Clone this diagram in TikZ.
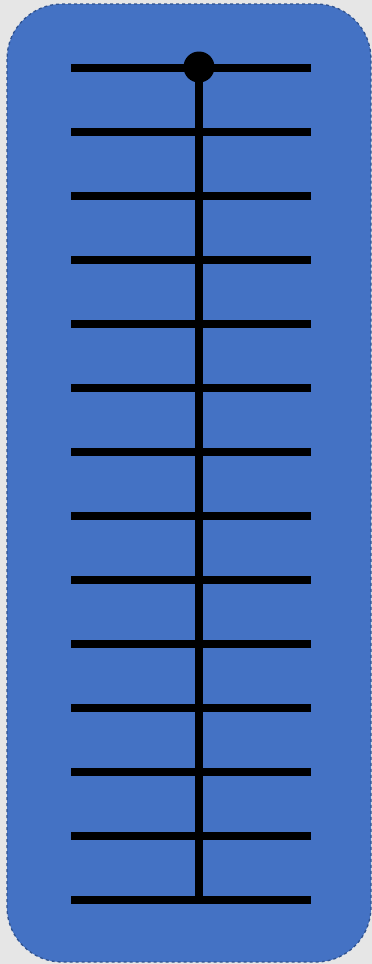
\documentclass[tikz,border=0pt]{standalone}
\begin{document}
\begin{tikzpicture}[x=1pt,y=-1pt,
  rung/.style={line width=8pt},
  stem/.style={line width=8pt}]
\definecolor{bgray}{HTML}{E6E6E6}
\definecolor{panelblue}{HTML}{4472C4}
\definecolor{panelborder}{HTML}{2F528F}
\fill[bgray] (0,0) rectangle (372,964);
\useasboundingbox (0,0) rectangle (372,964);
\draw[fill=panelblue, draw=panelborder, dashed, line width=1.3pt, rounded corners=55pt] (7,4) rectangle (371,962);
\foreach \i in {0,...,13}{
  \coordinate (l\i) at (71,68+64*\i);
  \coordinate (r\i) at (311,68+64*\i);
  \draw[rung] (l\i) -- (r\i);
}
\coordinate (top) at (199,68);
\coordinate (bot) at (199,900);
\draw[stem] (top) -- (bot);
\node[circle, fill=black, minimum size=31pt, inner sep=0pt] (dot) at (199,67) {};
\end{tikzpicture}
\end{document}
